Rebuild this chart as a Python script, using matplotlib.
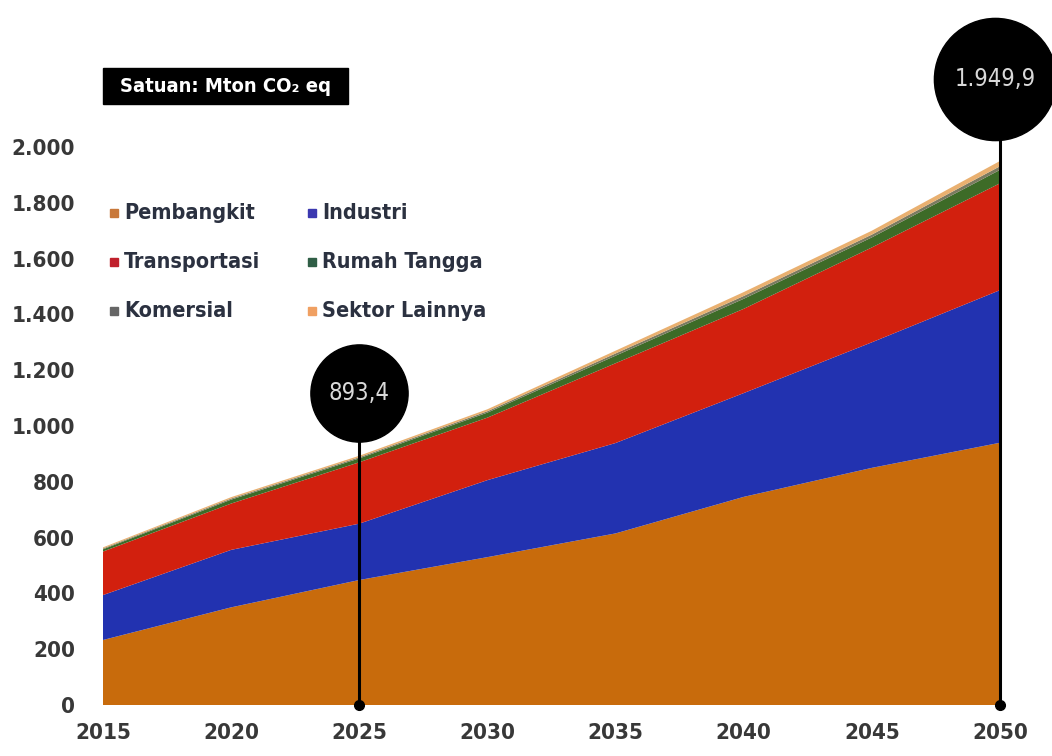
import matplotlib
matplotlib.use("Agg")
import matplotlib.pyplot as plt
from matplotlib.patches import Rectangle

# Emission projections per sector (Mton CO2 eq)
years = [2015, 2020, 2025, 2030, 2035, 2040, 2045, 2050]
pembangkit = [233, 350, 448, 530, 615, 746, 850, 940]
industri = [161, 206, 202, 276, 324, 372, 450, 547]
transportasi = [156, 166, 220, 224, 286, 302, 340, 383]
rumah_tangga = [8, 14, 14, 18, 27, 36, 36, 48]
komersial = [3, 4, 4, 5, 8, 10, 10, 13]
sektor_lainnya = [4, 5, 5.4, 7, 10, 14, 14, 18.9]

sector_names = ["Pembangkit", "Industri", "Transportasi",
                "Rumah Tangga", "Komersial", "Sektor Lainnya"]
area_colors = ["#C86B0C", "#2232B0", "#D2200E", "#3D6B27", "#7A7A60", "#E9B070"]
legend_colors = ["#C8783A", "#3B38B0", "#C0202C", "#2F5E46", "#666666", "#F0A062"]

y_ticks = [0, 200, 400, 600, 800, 1000, 1200, 1400, 1600, 1800, 2000]
y_tick_labels = ["0", "200", "400", "600", "800", "1.000", "1.200",
                 "1.400", "1.600", "1.800", "2.000"]
x_ticks = years
highlight_years = [2025, 2050]

plt.rcParams["font.family"] = ["DejaVu Sans"]
plt.rcParams["font.stretch"] = "condensed"

layers = [pembangkit, industri, transportasi, rumah_tangga, komersial, sektor_lainnya]
totals = [sum(v) for v in zip(*layers)]


def fmt_id(v):
    s = f"{v:,.1f}"
    return s.replace(",", "X").replace(".", ",").replace("X", ".")


W, H = 1052, 756
fig = plt.figure(figsize=(W / 100, H / 100), dpi=100)
ax = fig.add_axes([103 / W, (H - 705) / H, (1000 - 103) / W, (705 - 147) / H])

ax.stackplot(years, layers, colors=area_colors, linewidth=0)

ax.set_xlim(2015, 2050)
ax.set_ylim(0, 2000)
for s in ax.spines.values():
    s.set_visible(False)
ax.set_yticks(y_ticks)
ax.set_yticklabels(y_tick_labels)
ax.set_xticks(x_ticks)
ax.tick_params(axis="both", length=0, labelsize=16, labelcolor="#383838")
ax.tick_params(axis="y", pad=20)
ax.tick_params(axis="x", pad=13)
for lab in ax.get_xticklabels() + ax.get_yticklabels():
    lab.set_fontweight("bold")

# Highlight markers for selected years
circle_style = {2025: (1118, 70), 2050: (2245, 88)}
for yr in highlight_years:
    idx = years.index(yr)
    cy, size = circle_style[yr]
    ax.vlines(yr, 0, cy, color="black", lw=2.2, clip_on=False, zorder=4)
    ax.plot(yr, 0, "o", ms=7, color="black", clip_on=False, zorder=5)
    ax.plot(yr - (0.2 if yr == 2050 else 0), cy, "o", ms=size, color="black",
            clip_on=False, zorder=6)
    ax.text(yr - (0.2 if yr == 2050 else 0), cy, fmt_id(totals[idx]),
            ha="center", va="center", color="#d9d9d9", fontsize=17,
            zorder=7, clip_on=False)

# Unit box
fig.patches.append(Rectangle((103 / W, (H - 104) / H), 245 / W, 36 / H,
                             transform=fig.transFigure, color="black"))
fig.text(226 / W, (H - 86) / H, "Satuan: Mton CO₂ eq", ha="center", va="center",
         color="white", fontsize=14.5, fontweight="bold")

# Legend
col_x = [110, 308]
row_y = [213, 262, 311]
for i, (name, c) in enumerate(zip(sector_names, legend_colors)):
    col = i % 2
    row = i // 2
    x = col_x[col]
    y = row_y[row]
    fig.patches.append(Rectangle((x / W, (H - y - 4) / H), 8 / W, 8 / H,
                                 transform=fig.transFigure, color=c))
    fig.text((x + 14) / W, (H - y) / H, name, ha="left", va="center",
             fontsize=15.5, fontweight="bold", color="#2b3140")

fig.savefig("out.png", dpi=100)
